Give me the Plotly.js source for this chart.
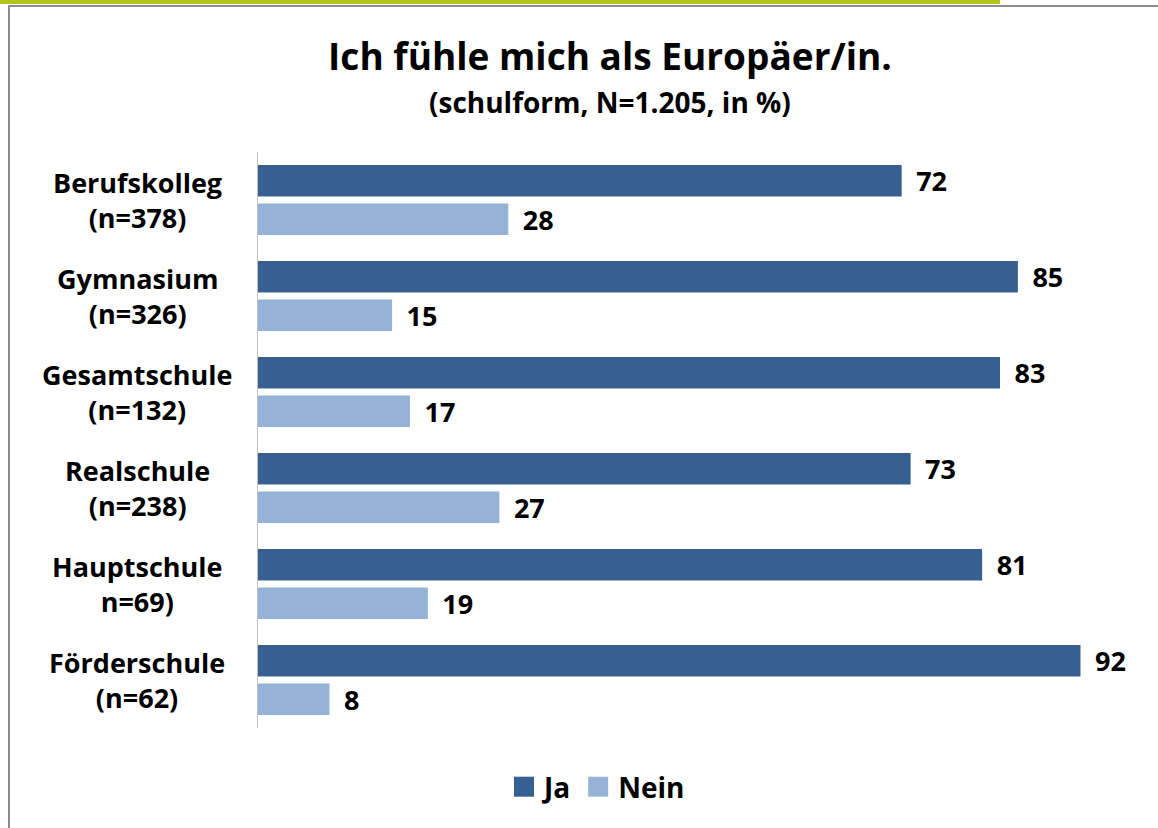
<!DOCTYPE html>
<html>
<head>
<meta charset="utf-8">
<script src="https://cdn.plot.ly/plotly-3.0.1.min.js"></script>
<style>
  html, body { margin: 0; padding: 0; background: #ffffff; }
  #wrap { position: relative; width: 1158px; height: 828px; overflow: hidden; background: #fff; }
  #chart { position: absolute; left: 0; top: 0; width: 1158px; height: 828px; }
  .deco { position: absolute; pointer-events: none; }
</style>
</head>
<body>
<div id="wrap">
  <div id="chart"></div>
  <div class="deco" style="left:0;top:0;width:1000px;height:4px;background:#b2c51c;"></div>
  <div class="deco" style="left:8px;top:5px;width:1150px;height:2px;background:#8c8c8c;"></div>
  <div class="deco" style="left:8px;top:5px;width:2px;height:823px;background:#8c8c8c;"></div>
</div>
<script>
const categories = ["Berufskolleg", "Gymnasium", "Gesamtschule", "Realschule", "Hauptschule", "Förderschule"];
const categoryLabels = ["Berufskolleg<br>(n=378)", "Gymnasium<br>(n=326)", "Gesamtschule<br>(n=132)", "Realschule<br>(n=238)", "Hauptschule<br>n=69)", "Förderschule<br>(n=62)"];
const ja = [72, 85, 83, 73, 81, 92];
const nein = [28, 15, 17, 27, 19, 8];
const seriesNames = ["Ja", "Nein"];

const FONT = "'Open Sans', sans-serif";
const labelFont = {family: FONT, size: 27, color: "#000000", weight: "bold"};

const traces = [
  {type: "bar", orientation: "h", name: seriesNames[0], y: categories, x: ja,
   marker: {color: "#376092"}, text: ja, texttemplate: "\u2009\u00a0%{x}", textposition: "outside",
   textfont: labelFont, constraintext: "none", cliponaxis: false, hoverinfo: "x+y"},
  {type: "bar", orientation: "h", name: seriesNames[1], y: categories, x: nein,
   marker: {color: "#95b3d7"}, text: nein, texttemplate: "\u2009\u00a0%{x}", textposition: "outside",
   textfont: labelFont, constraintext: "none", cliponaxis: false, hoverinfo: "x+y"}
];

const annotations = categories.map((c, i) => ({
  xref: "paper", yref: "y", x: -0.1353, y: c, xanchor: "center", yanchor: "middle",
  text: categoryLabels[i], showarrow: false, align: "center", font: labelFont
}));
annotations.push({
  xref: "paper", yref: "paper", x: (610 - 258) / 894, y: 1 + (152 - 102) / 576,
  xanchor: "center", yanchor: "middle", showarrow: false,
  text: "(schulform, N=1.205, in %)", font: {family: FONT, size: 28, color: "#000", weight: "bold"}
});

const layout = {
  width: 1158, height: 828,
  margin: {l: 258, r: 6, t: 152, b: 100},
  paper_bgcolor: "rgba(0,0,0,0)", plot_bgcolor: "rgba(0,0,0,0)",
  title: {text: "Ich fühle mich als Europäer/in.", font: {family: FONT, size: 37, color: "#000", weight: "bold"},
          x: 610 / 1158, xanchor: "center", y: 1 - 57 / 828, yanchor: "middle", xref: "container", yref: "container"},
  barmode: "group", bargap: 0.198, bargroupgap: 0.18,
  xaxis: {range: [0, 100], visible: false, showgrid: false, zeroline: false, fixedrange: true},
  yaxis: {autorange: "reversed", showticklabels: false, ticks: "", showgrid: false, zeroline: false,
          showline: true, linecolor: "#bfbfbf", linewidth: 1, fixedrange: true},
  showlegend: true,
  legend: {orientation: "h", x: (597 - 258) / 894, xanchor: "center", y: -(787 - 728) / 576, yanchor: "middle",
           font: {family: FONT, size: 28, color: "#000", weight: "bold"}, itemwidth: 30, traceorder: "normal"},
  annotations: annotations,
  font: {family: FONT}
};

Plotly.newPlot("chart", traces, layout, {displayModeBar: false, staticPlot: true}).then(function (gd) {
  gd.querySelectorAll(".legendpoints path").forEach(function (p) {
    p.setAttribute("d", "M10,10H-10V-10H10Z");
  });
});
</script>
</body>
</html>
